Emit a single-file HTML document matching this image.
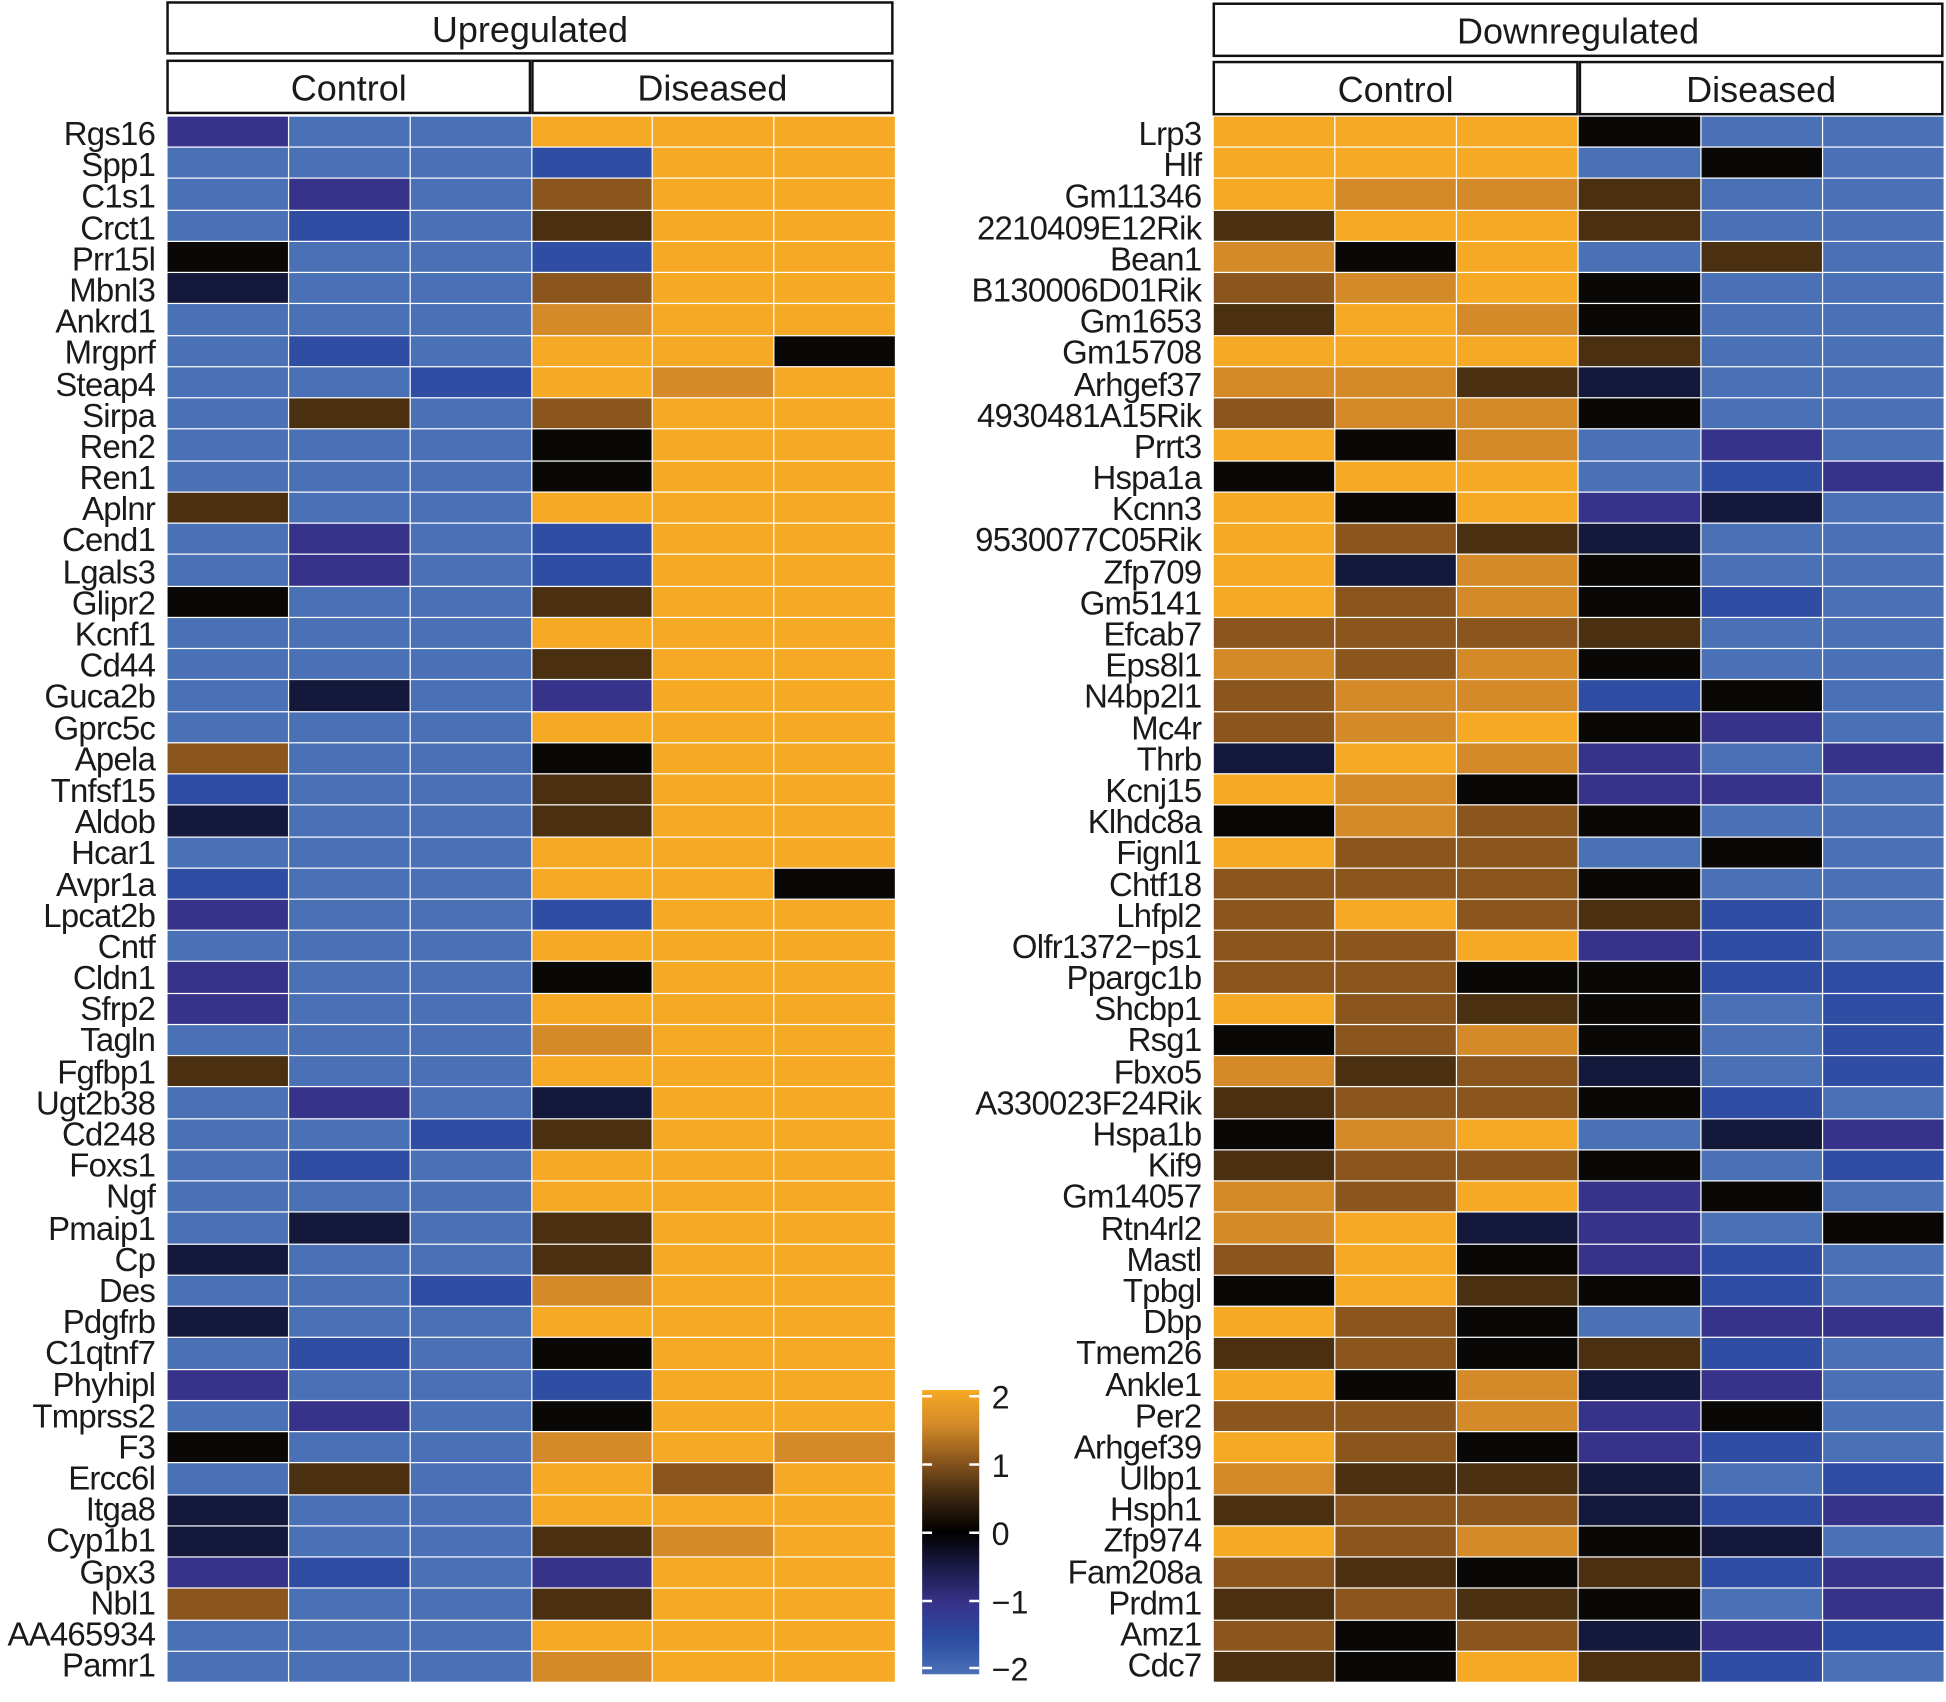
<!DOCTYPE html>
<html><head><meta charset="utf-8">
<style>
html,body{margin:0;padding:0;background:#fff;}
body{width:1946px;height:1702px;overflow:hidden;position:relative;}
#s{position:absolute;left:0;top:0;width:1568px;height:1371px;transform:scale(1.2411);transform-origin:0 0;font-family:"Liberation Sans",Arial,sans-serif;color:#1a1a1a;}
.box{position:absolute;border:2.5px solid #111;box-sizing:border-box;background:#fff;text-align:center;font-size:29px;}
.hm{position:absolute;display:grid;grid-template-columns:repeat(6,1fr);grid-template-rows:repeat(50,1fr);gap:1px;background:#fff;}
.lab{position:absolute;text-align:right;font-size:26.5px;letter-spacing:-0.6px;}
.lab div{height:25.2px;line-height:25.2px;white-space:nowrap;}
.tk{position:absolute;font-size:26px;}
</style></head><body>
<div id="s">
<div class="box" style="left:134px;top:1px;width:586px;height:43px;line-height:44px;">Upregulated</div>
<div class="box" style="left:134px;top:48px;width:294px;height:44px;line-height:45px;">Control</div>
<div class="box" style="left:428px;top:48px;width:292px;height:44px;line-height:45px;">Diseased</div>
<div class="box" style="left:977px;top:2px;width:589px;height:44px;line-height:45px;">Downregulated</div>
<div class="box" style="left:977px;top:49px;width:295px;height:44px;line-height:45px;">Control</div>
<div class="box" style="left:1272px;top:49px;width:294px;height:44px;line-height:45px;">Diseased</div>

<div class="lab" style="right:1443px;top:96px;">
<div>Rgs16</div><div>Spp1</div><div>C1s1</div><div>Crct1</div><div>Prr15l</div><div>Mbnl3</div><div>Ankrd1</div><div>Mrgprf</div><div>Steap4</div><div>Sirpa</div><div>Ren2</div><div>Ren1</div><div>Aplnr</div><div>Cend1</div><div>Lgals3</div><div>Glipr2</div><div>Kcnf1</div><div>Cd44</div><div>Guca2b</div><div>Gprc5c</div><div>Apela</div><div>Tnfsf15</div><div>Aldob</div><div>Hcar1</div><div>Avpr1a</div><div>Lpcat2b</div><div>Cntf</div><div>Cldn1</div><div>Sfrp2</div><div>Tagln</div><div>Fgfbp1</div><div>Ugt2b38</div><div>Cd248</div><div>Foxs1</div><div>Ngf</div><div>Pmaip1</div><div>Cp</div><div>Des</div><div>Pdgfrb</div><div>C1qtnf7</div><div>Phyhipl</div><div>Tmprss2</div><div>F3</div><div>Ercc6l</div><div>Itga8</div><div>Cyp1b1</div><div>Gpx3</div><div>Nbl1</div><div>AA465934</div><div>Pamr1</div>
</div>
<div class="lab" style="right:600px;top:96px;">
<div>Lrp3</div><div>Hlf</div><div>Gm11346</div><div>2210409E12Rik</div><div>Bean1</div><div>B130006D01Rik</div><div>Gm1653</div><div>Gm15708</div><div>Arhgef37</div><div>4930481A15Rik</div><div>Prrt3</div><div>Hspa1a</div><div>Kcnn3</div><div>9530077C05Rik</div><div>Zfp709</div><div>Gm5141</div><div>Efcab7</div><div>Eps8l1</div><div>N4bp2l1</div><div>Mc4r</div><div>Thrb</div><div>Kcnj15</div><div>Klhdc8a</div><div>Fignl1</div><div>Chtf18</div><div>Lhfpl2</div><div>Olfr1372−ps1</div><div>Ppargc1b</div><div>Shcbp1</div><div>Rsg1</div><div>Fbxo5</div><div>A330023F24Rik</div><div>Hspa1b</div><div>Kif9</div><div>Gm14057</div><div>Rtn4rl2</div><div>Mastl</div><div>Tpbgl</div><div>Dbp</div><div>Tmem26</div><div>Ankle1</div><div>Per2</div><div>Arhgef39</div><div>Ulbp1</div><div>Hsph1</div><div>Zfp974</div><div>Fam208a</div><div>Prdm1</div><div>Amz1</div><div>Cdc7</div>
</div>

<div id="h1" class="hm" style="left:135px;top:94px;width:586px;height:1261px;"></div>
<div id="h2" class="hm" style="left:978px;top:94px;width:588px;height:1261px;"></div>

<div style="position:absolute;left:743px;top:1120px;width:46px;height:229px;background:linear-gradient(to bottom,#F6A924 0%,#D48A28 12%,#8A561E 25%,#3a2510 38%,#000 50%,#1a1a45 62%,#38338A 75%,#2B4BA0 87%,#4A70B6 100%);"></div>
<svg style="position:absolute;left:743px;top:1120px;" width="46" height="229">
<g stroke="#fff" stroke-width="2">
<line x1="0" y1="5" x2="8" y2="5"/><line x1="38" y1="5" x2="46" y2="5"/>
<line x1="0" y1="60" x2="8" y2="60"/><line x1="38" y1="60" x2="46" y2="60"/>
<line x1="0" y1="115" x2="8" y2="115"/><line x1="38" y1="115" x2="46" y2="115"/>
<line x1="0" y1="170" x2="8" y2="170"/><line x1="38" y1="170" x2="46" y2="170"/>
<line x1="0" y1="224" x2="8" y2="224"/><line x1="38" y1="224" x2="46" y2="224"/>
</g></svg>
<div class="tk" style="left:799px;top:1111px;">2</div>
<div class="tk" style="left:799px;top:1166px;">1</div>
<div class="tk" style="left:799px;top:1221px;">0</div>
<div class="tk" style="left:799px;top:1276px;">−1</div>
<div class="tk" style="left:799px;top:1330px;">−2</div>
</div>
<script>
var C={B:"#4A70B6",b:"#2F4DA3",p:"#38338A",n:"#14183A",k:"#0A0806",d:"#4A2F10",m:"#8A561E",o:"#D48A28",O:"#F6A924"};
var L="pBBOOO BBBbOO BpBmOO BbBdOO kBBbOO nBBmOO BBBoOO BbBOOk BBbOoO BdBmOO BBBkOO BBBkOO dBBOOO BpBbOO BpBbOO kBBdOO BBBOOO BBBdOO BnBpOO BBBOOO mBBkOO bBBdOO nBBdOO BBBOOO bBBOOk pBBbOO BBBOOO pBBkOO pBBOOO BBBoOO dBBOOO BpBnOO BBbdOO BbBOOO BBBOOO BnBdOO nBBdOO BBboOO nBBOOO BbBkOO pBBbOO BpBkOO kBBoOo BdBOmO nBBOOO nBBdoO pbBpOO mBBdOO BBBOOO BBBoOO";
var R="OOOkBB OOOBkB OoodBB dOOdBB okOBdB moOkBB dOokBB OOOdBB oodnBB mookBB OkoBpB kOOBbp OkOpnB OmdnBB OnokBB OmokbB mmmdBB omokBB moobkB moOkpB nOopBp OokppB komkBB OmmBkB mmmkBB mOmdbB mmOpbB mmkkbb OmdkBb kmokBb odmnBb dmmkbB koOBnp dmmkBb omOpkB oOnpBk mOkpbB kOdkbB OmkBpp dmkdbB OkonpB mmopkB OmkpbB oddnBb dmmnbp OmoknB mdkdbp dmdkBp mkmnpb dkOdbB";
function f(id,s){var e=document.getElementById(id),r=s.split(" ");for(var i=0;i<r.length;i++)for(var j=0;j<6;j++){var d=document.createElement("div");d.style.background=C[r[i][j]];e.appendChild(d);}}
f("h1",L);f("h2",R);
</script>
</body></html>
